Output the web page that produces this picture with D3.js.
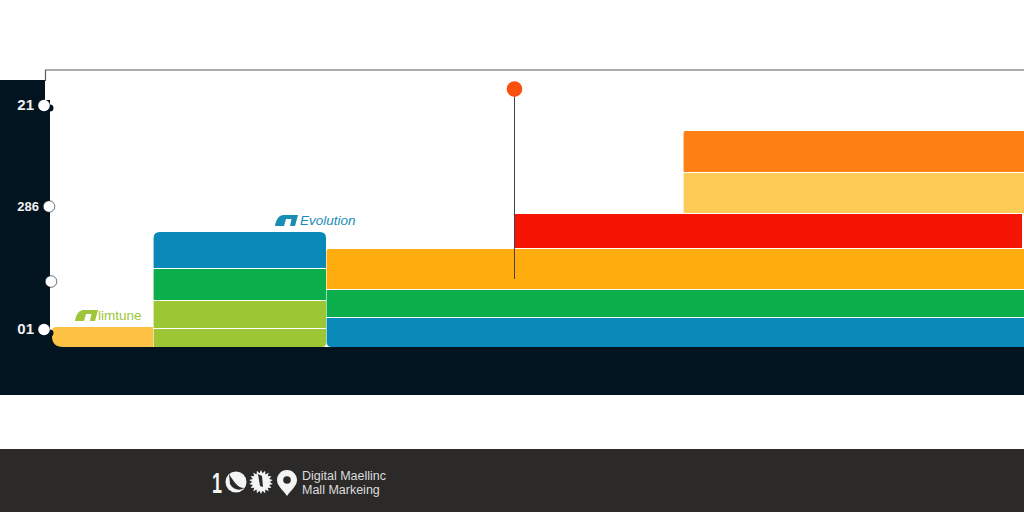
<!DOCTYPE html>
<html>
<head>
<meta charset="utf-8">
<script src="https://cdn.jsdelivr.net/npm/d3@7"></script>
<style>
  html, body { margin: 0; padding: 0; background: #fff; }
  svg { display: block; font-family: "Liberation Sans", Arial, sans-serif; }
</style>
</head>
<body>
<div id="viz-root"></div>
<script>
// Stacked timeline blocks, one entry per block
const segmentSeries = ['sand', 'lime', 'lime', 'green', 'blue', 'blue', 'green', 'amber', 'red', 'honey', 'orange'];
const segmentStart = [0, 101, 101, 101, 101, 274, 274, 274, 462, 631, 631];
const segmentEnd = [101, 274, 274, 274, 274, 972, 972, 972, 970, 972, 972];
const segmentLow = [0, 0, 18, 46, 78, 0, 29, 57, 98, 133, 174];
const segmentHigh = [20, 18, 46, 78, 115, 29, 57, 98, 133, 174, 216];

const seriesNames = ['sand', 'lime', 'green', 'blue', 'amber', 'red', 'honey', 'orange'];
const seriesColors = ['#fdc244', '#9cc634', '#0cae4c', '#0889b8', '#ffad0e', '#f51502', '#fecb57', '#fe8015'];

const tickValues = [242, 141, 66, 18];
const tickLabels = ['21', '286', '', '01'];

const markerTime = 462.5;
const markerValue = 258;
const markerFoot = 68;

const width = 1024, height = 512;
const navy = '#031421';
const footerBg = '#2b2a29';

const svg = d3.select('#viz-root').append('svg').attr('width', width).attr('height', height);

const x = d3.scaleLinear().domain([0, 972]).range([52, 1024]);
const y = d3.scaleLinear().domain([0, 277]).range([347, 70]);
const color = d3.scaleOrdinal().domain(seriesNames).range(seriesColors);

// Page background pieces
svg.append('rect').attr('width', width).attr('height', height).attr('fill', '#fff');
svg.append('rect').attr('x', 0).attr('y', 80).attr('width', width).attr('height', 315).attr('fill', navy);
svg.append('rect').attr('x', 50).attr('y', 80).attr('width', 974).attr('height', 267).attr('fill', '#fff');
svg.append('rect').attr('x', 50).attr('y', 332).attr('width', 14).attr('height', 15).attr('fill', navy);
svg.append('rect').attr('x', 45).attr('y', 70).attr('width', 979).attr('height', 30).attr('fill', '#fff');
svg.append('path').attr('d', 'M45.5,81V70H1024').attr('fill', 'none').attr('stroke', '#5a5a5a').attr('stroke-width', 1.2);
svg.append('rect').attr('x', 0).attr('y', 449).attr('width', width).attr('height', 63).attr('fill', footerBg);

// rect with individually rounded corners (tl, tr, br, bl)
function roundedBlock(x0, y0, x1, y1, r) {
  const [tl, tr, br, bl] = r;
  const p = d3.path();
  p.moveTo(x0 + tl, y0);
  p.lineTo(x1 - tr, y0);
  p.quadraticCurveTo(x1, y0, x1, y0 + tr);
  p.lineTo(x1, y1 - br);
  p.quadraticCurveTo(x1, y1, x1 - br, y1);
  p.lineTo(x0 + bl, y1);
  p.quadraticCurveTo(x0, y1, x0, y1 - bl);
  p.lineTo(x0, y0 + tl);
  p.quadraticCurveTo(x0, y0, x0 + tl, y0);
  p.closePath();
  return p.toString();
}

const segments = segmentSeries.map((s, i) => ({
  series: s, start: segmentStart[i], end: segmentEnd[i], low: segmentLow[i], high: segmentHigh[i], i
}));

function cornersFor(d) {
  if (d.i === 0) return [4, 0, 0, 11];
  if (d.i === 1) return [0, 0, 4, 0];
  if (d.i === 4) return [6, 6, 0, 0];
  if (d.i === 5) return [0, 0, 0, 5];
  if (d.i === 7) return [2, 0, 0, 0];
  if (d.i === 10) return [2, 0, 0, 0];
  return [0, 0, 0, 0];
}

// small gap between stacked blocks, except on the baseline
svg.append('g').selectAll('path')
  .data(segments)
  .join('path')
  .attr('fill', d => color(d.series))
  .attr('d', d => roundedBlock(
    x(d.start) + (d.start > 0 ? 0.6 : 0),
    y(d.high),
    x(d.end),
    y(d.low) - (d.low > 0 ? 1.1 : 0),
    cornersFor(d)));

// Marker stem and head
svg.append('line')
  .attr('x1', x(markerTime)).attr('x2', x(markerTime))
  .attr('y1', y(markerValue)).attr('y2', y(markerFoot))
  .attr('stroke', '#444').attr('stroke-width', 1);
svg.append('circle')
  .attr('cx', x(markerTime)).attr('cy', y(markerValue))
  .attr('r', 7.8).attr('fill', '#f9500f');

// Dark lumps behind the top and bottom knobs
svg.append('circle').attr('cx', 50).attr('cy', 108).attr('r', 3.5).attr('fill', navy);
svg.append('circle').attr('cx', 50).attr('cy', 333).attr('r', 3.5).attr('fill', navy);

// Left axis: white knobs on the navy edge
const tickNudge = [-6, -1, 1, -6];
const yAxis = d3.axisLeft(y)
  .tickValues(tickValues)
  .tickSize(0)
  .tickFormat((d, i) => tickLabels[i]);

const axisG = svg.append('g').attr('transform', 'translate(50,0)').call(yAxis);
axisG.select('.domain').remove();
axisG.selectAll('.tick').each(function (d, i) {
  const t = d3.select(this);
  t.select('text')
    .attr('x', i === 1 ? -11 : -16)
    .attr('fill', '#f0f0f0')
    .attr('font-family', '"Liberation Sans", Arial, sans-serif')
    .attr('font-weight', 700)
    .attr('font-size', i === 1 ? 13 : 15);
  t.append('circle')
    .attr('cx', tickNudge[i])
    .attr('r', 5.8)
    .attr('fill', '#fff')
    .attr('stroke', i === 0 || i === 3 ? 'none' : navy)
    .attr('stroke-width', 0.6);
});

// Series tags above the first two stacks
const tagIcon = 'M0,11C1,5 3,1 8,0H23L20,11H15L16.5,4H11L9,11Z';
const tags = [
  { label: 'limtune', left: 75, base: 321, fill: '#9dc63a', italic: false, textX: 98 },
  { label: 'Evolution', left: 275, base: 226, fill: '#1a8db5', italic: true, textX: 300 }
];
const tagG = svg.append('g').selectAll('g').data(tags).join('g');
tagG.append('path')
  .attr('d', tagIcon)
  .attr('transform', d => `translate(${d.left},${d.base - 11})`)
  .attr('fill', d => d.fill);
tagG.append('text')
  .attr('x', d => d.textX)
  .attr('y', d => d.base - 1)
  .attr('fill', d => d.fill)
  .attr('font-size', 13.5)
  .attr('font-style', d => d.italic ? 'italic' : 'normal')
  .text(d => d.label);

// Footer logo
const logo = svg.append('g').attr('fill', '#f4f4f4');
logo.append('text')
  .attr('x', 212).attr('y', 493)
  .attr('font-size', 29).attr('font-weight', 700)
  .attr('textLength', 10).attr('lengthAdjust', 'spacingAndGlyphs')
  .text('1');
logo.append('circle').attr('cx', 236).attr('cy', 482).attr('r', 10.5);
logo.append('path').attr('d', 'M229,474C234,482 238,488 244,488C240,491 233,490 230,484Z').attr('fill', footerBg);

const burst = d3.lineRadial().curve(d3.curveLinearClosed);
const burstPoints = d3.range(36).map(i => [i * Math.PI / 18, i % 2 ? 8.8 : 12]);
logo.append('path').attr('d', burst(burstPoints)).attr('transform', 'translate(261,482)');
logo.append('path').attr('d', 'M258,474L262,476L263,487L260,486Z').attr('fill', footerBg);
logo.append('path')
  .attr('d', 'M287,470C293,470 297,475 297,480C297,486 291,490 287,496C283,490 277,486 277,480C277,475 281,470 287,470Z');
logo.append('circle').attr('cx', 287).attr('cy', 480).attr('r', 3.8).attr('fill', footerBg);

const footerLines = ['Digital Maellinc', 'Mall Markeing'];
svg.append('g').selectAll('text').data(footerLines).join('text')
  .attr('x', 302)
  .attr('y', (d, i) => 480 + i * 13.5)
  .attr('fill', '#dddddd')
  .attr('font-size', 12.5)
  .text(d => d);
</script>
</body>
</html>
